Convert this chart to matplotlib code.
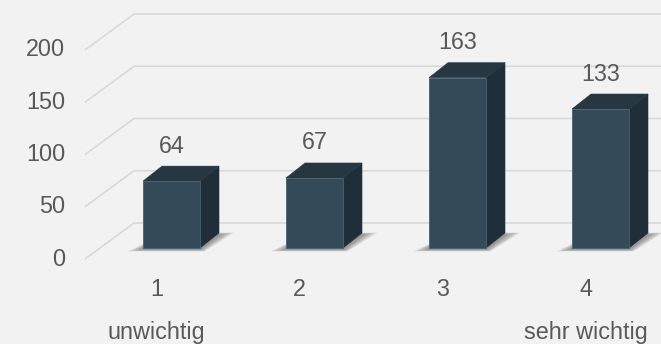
import matplotlib
matplotlib.use("Agg")
import matplotlib.pyplot as plt
from matplotlib.patches import Polygon

# Survey results: importance rating 1 (unwichtig) .. 4 (sehr wichtig)
categories = [1, 2, 3, 4]
counts = [64, 67, 163, 133]
tick_labels = ["1", "2", "3", "4"]
end_labels = {1: "unwichtig", 4: "sehr wichtig"}
y_ticks = [0, 50, 100, 150, 200]

W, H = 661, 344
BG = "#F2F2F2"
GRID = "#D9D9D9"
TEXT = "#595959"
FRONT = "#344A58"
TOP = "#263742"
SIDE = "#1F2E38"

# pixel scale of the data axes
PX_X = 143.0     # pixels per category
PX_Y = 1.045     # pixels per count unit
ORIGIN_X = 171.5  # pixel x of category 1 (bar front centre)
ORIGIN_Y = 248.0  # pixel y (from top) of count 0 on the bar plane


def px(dx, dy):
    """Convert a pixel offset (dy positive = upwards) into data units."""
    return dx / PX_X, dy / PX_Y


plt.rcParams["font.family"] = ["Liberation Sans", "DejaVu Sans"]
fig = plt.figure(figsize=(W / 100, H / 100), dpi=100, facecolor=BG)
ax = fig.add_axes([0, 0, 1, 1])
ax.set_facecolor(BG)
ax.set_xlim(1 - ORIGIN_X / PX_X, 1 + (W - ORIGIN_X) / PX_X)
ax.set_ylim(-(H - ORIGIN_Y) / PX_Y, ORIGIN_Y / PX_Y)
ax.axis("off")

# oblique projection offsets
bar_dx, bar_dy = px(19, 15)          # depth of a bar
front_dx, front_dy = px(-15, -11)    # floor front edge relative to bar plane
back_dx, back_dy = px(34, 25)        # back wall relative to bar plane
wall_x = 0.5                         # left wall on the bar plane
half_w = 28.5 / PX_X

# gridlines: diagonal on the side wall, horizontal on the back wall
x_end = ax.get_xlim()[1] + 1
for v in y_ticks:
    xs = [wall_x + front_dx, wall_x + back_dx, x_end]
    ys = [v + front_dy, v + back_dy, v + back_dy]
    ax.plot(xs, ys, color=GRID, lw=1.2, solid_capstyle="butt", zorder=1)
    lx, _ = px(-20, 0)
    ax.text(wall_x + front_dx + lx, v + front_dy, str(v), ha="right",
            va="center", fontsize=16.8, color=TEXT, zorder=5)

# soft floor shadows, stretched sideways along the footprint
for c in categories:
    x0, x1 = c - half_w, c + half_w
    for k in range(16, 0, -1):
        gx, _ = px(k * 1.0, 0)
        _, sy = px(0, -1.5)
        _, gy = px(0, k * 0.12)
        pts = [(x0 - gx, -gy + sy), (x1 + gx * 0.3, -gy + sy),
               (x1 + bar_dx + gx, bar_dy + gy + sy),
               (x0 + bar_dx + gx * 0.3, bar_dy + gy + sy)]
        ax.add_patch(Polygon(pts, closed=True, facecolor="#5A5A5A",
                             edgecolor="none", alpha=0.05, zorder=2))

# 3D-looking columns
for c, v in zip(categories, counts):
    x0, x1 = c - half_w, c + half_w
    front = [(x0, 0), (x1, 0), (x1, v), (x0, v)]
    top = [(x0, v), (x1, v), (x1 + bar_dx, v + bar_dy), (x0 + bar_dx, v + bar_dy)]
    side = [(x1, 0), (x1 + bar_dx, bar_dy), (x1 + bar_dx, v + bar_dy), (x1, v)]
    ax.add_patch(Polygon(side, closed=True, facecolor=SIDE, edgecolor=SIDE,
                         lw=0.4, zorder=3))
    ax.add_patch(Polygon(top, closed=True, facecolor=TOP, edgecolor=TOP,
                         lw=0.4, zorder=3))
    ax.add_patch(Polygon(front, closed=True, facecolor=FRONT, edgecolor="#4A6170",
                         lw=0.6, zorder=4))
    _, ly = px(0, 35)
    ax.text(c, v + ly, str(v), ha="center", va="center", fontsize=16.8,
            color=TEXT, zorder=5)

# category labels on the floor front edge
_, t1 = px(0, -41)
_, t2 = px(0, -85)
for c, lab in zip(categories, tick_labels):
    ax.text(c + front_dx, t1, lab, ha="center", va="center", fontsize=16.8,
            color=TEXT)
    if c in end_labels:
        ax.text(c + front_dx, t2, end_labels[c], ha="center", va="center",
                fontsize=16.8, color=TEXT)

fig.savefig("out.png", dpi=100, facecolor=BG)
